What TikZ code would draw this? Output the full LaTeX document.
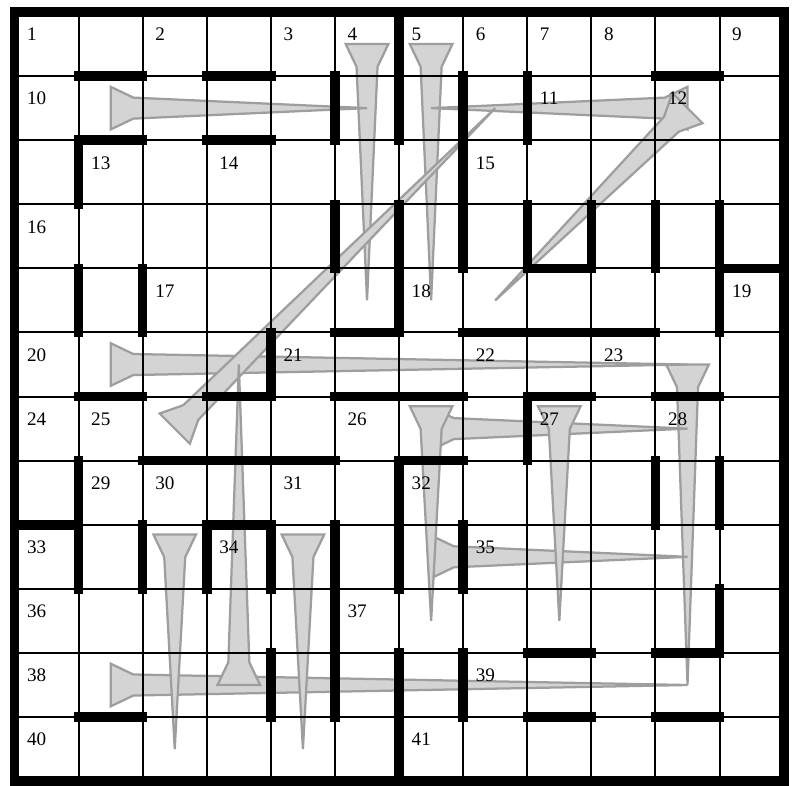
\documentclass[tikz,border=0pt]{standalone}
\usepackage{fontspec}
\setmainfont{Liberation Serif}
\usetikzlibrary{calc}

\newcommand{\drawtack}[2]{%
  \coordinate (neck) at ($(#1)!0.354cm!(#2)$);
  \draw[tack] ($(#1)!0.333cm!90:(#2)$) -- ($(neck)!0.164cm!90:(#2)$) -- (#2)
    -- ($(neck)!0.164cm!-90:(#2)$) -- ($(#1)!0.333cm!-90:(#2)$) -- cycle;
}

\begin{document}
\begin{tikzpicture}[x=1cm, y=-1cm,
        gridline/.style={line width=0.9pt},
        wall/.style={line width=4.2pt, line cap=rect},
        border/.style={line width=4.4pt},
        tack/.style={fill=black!17, draw=black!38, line width=1pt},
        num/.style={anchor=base west, inner sep=0pt, font=\fontsize{8.5}{10}\selectfont}]
        \useasboundingbox (-0.226,-0.187) rectangle (12.13,12.075);

        \foreach \c in {0,...,11}
            \foreach \r in {0,...,11}
                \coordinate (c\c-\r) at (\c+0.5,\r+0.5);
        \coordinate (h6-6) at (6.5,6.15);
        \coordinate (h8-6) at (8.5,6.15);
        \coordinate (h2-8) at (2.5,8.15);
        \coordinate (h4-8) at (4.5,8.15);

        \drawtack{c10-5}{c10-10}
        \drawtack{c1-5}{c10-5}
        \drawtack{c1-10}{c10-10}
        \drawtack{c6-6}{c10-6}
        \drawtack{c6-8}{c10-8}
        \drawtack{h6-6}{c6-9}
        \drawtack{h8-6}{c8-9}
        \drawtack{c5-0}{c5-4}
        \drawtack{c6-0}{c6-4}
        \drawtack{c1-1}{c5-1}
        \drawtack{c10-1}{c6-1}
        \drawtack{c10-1}{c7-4}
        \drawtack{c2-6}{c7-1}
        \drawtack{c3-10}{c3-5}
        \drawtack{h2-8}{c2-11}
        \drawtack{h4-8}{c4-11}

        \foreach \i in {1,...,11} {
            \draw[gridline] (\i,0) -- (\i,12);
            \draw[gridline] (0,\i) -- (12,\i);
        }

        \foreach \y/\a/\b in {1/1/2, 1/3/4, 1/10/11, 2/1/2, 2/3/4, 4/8/9, 4/11/12,
                5/5/6, 5/7/10, 6/1/2, 6/3/4, 6/5/7, 6/8/9, 6/10/11, 7/2/5, 7/6/7,
                8/0/1, 8/3/4, 10/8/9, 10/10/11, 11/1/2, 11/8/9, 11/10/11}
            \draw[wall] (\a,\y) -- (\b,\y);
        \foreach \x/\a/\b in {1/2/3, 1/4/5, 1/7/9, 2/4/5, 2/8/9, 3/8/9, 4/5/6, 4/8/9,
                4/10/11, 5/1/2, 5/3/4, 5/8/11, 6/0/2, 6/3/5, 6/7/9, 6/10/12, 7/1/4,
                7/8/9, 7/10/11, 8/1/2, 8/3/4, 8/6/7, 9/3/4, 10/3/4, 10/7/8, 11/3/5,
                11/7/8, 11/9/10}
            \draw[wall] (\x,\a) -- (\x,\b);

        \draw[border] (0,0) rectangle (12,12);

        \foreach \n/\c/\r in {1/0/0, 2/2/0, 3/4/0, 4/5/0, 5/6/0, 6/7/0, 7/8/0, 8/9/0, 9/11/0,
                10/0/1, 11/8/1, 12/10/1, 13/1/2, 14/3/2, 15/7/2, 16/0/3,
                17/2/4, 18/6/4, 19/11/4, 20/0/5, 21/4/5, 22/7/5, 23/9/5,
                24/0/6, 25/1/6, 26/5/6, 27/8/6, 28/10/6, 29/1/7, 30/2/7, 31/4/7, 32/6/7,
                33/0/8, 34/3/8, 35/7/8, 36/0/9, 37/5/9, 38/0/10, 39/7/10, 40/0/11, 41/6/11}
            \node[num] (n\n) at (\c+0.19,\r+0.45) {\n};
    \end{tikzpicture}
\end{document}
